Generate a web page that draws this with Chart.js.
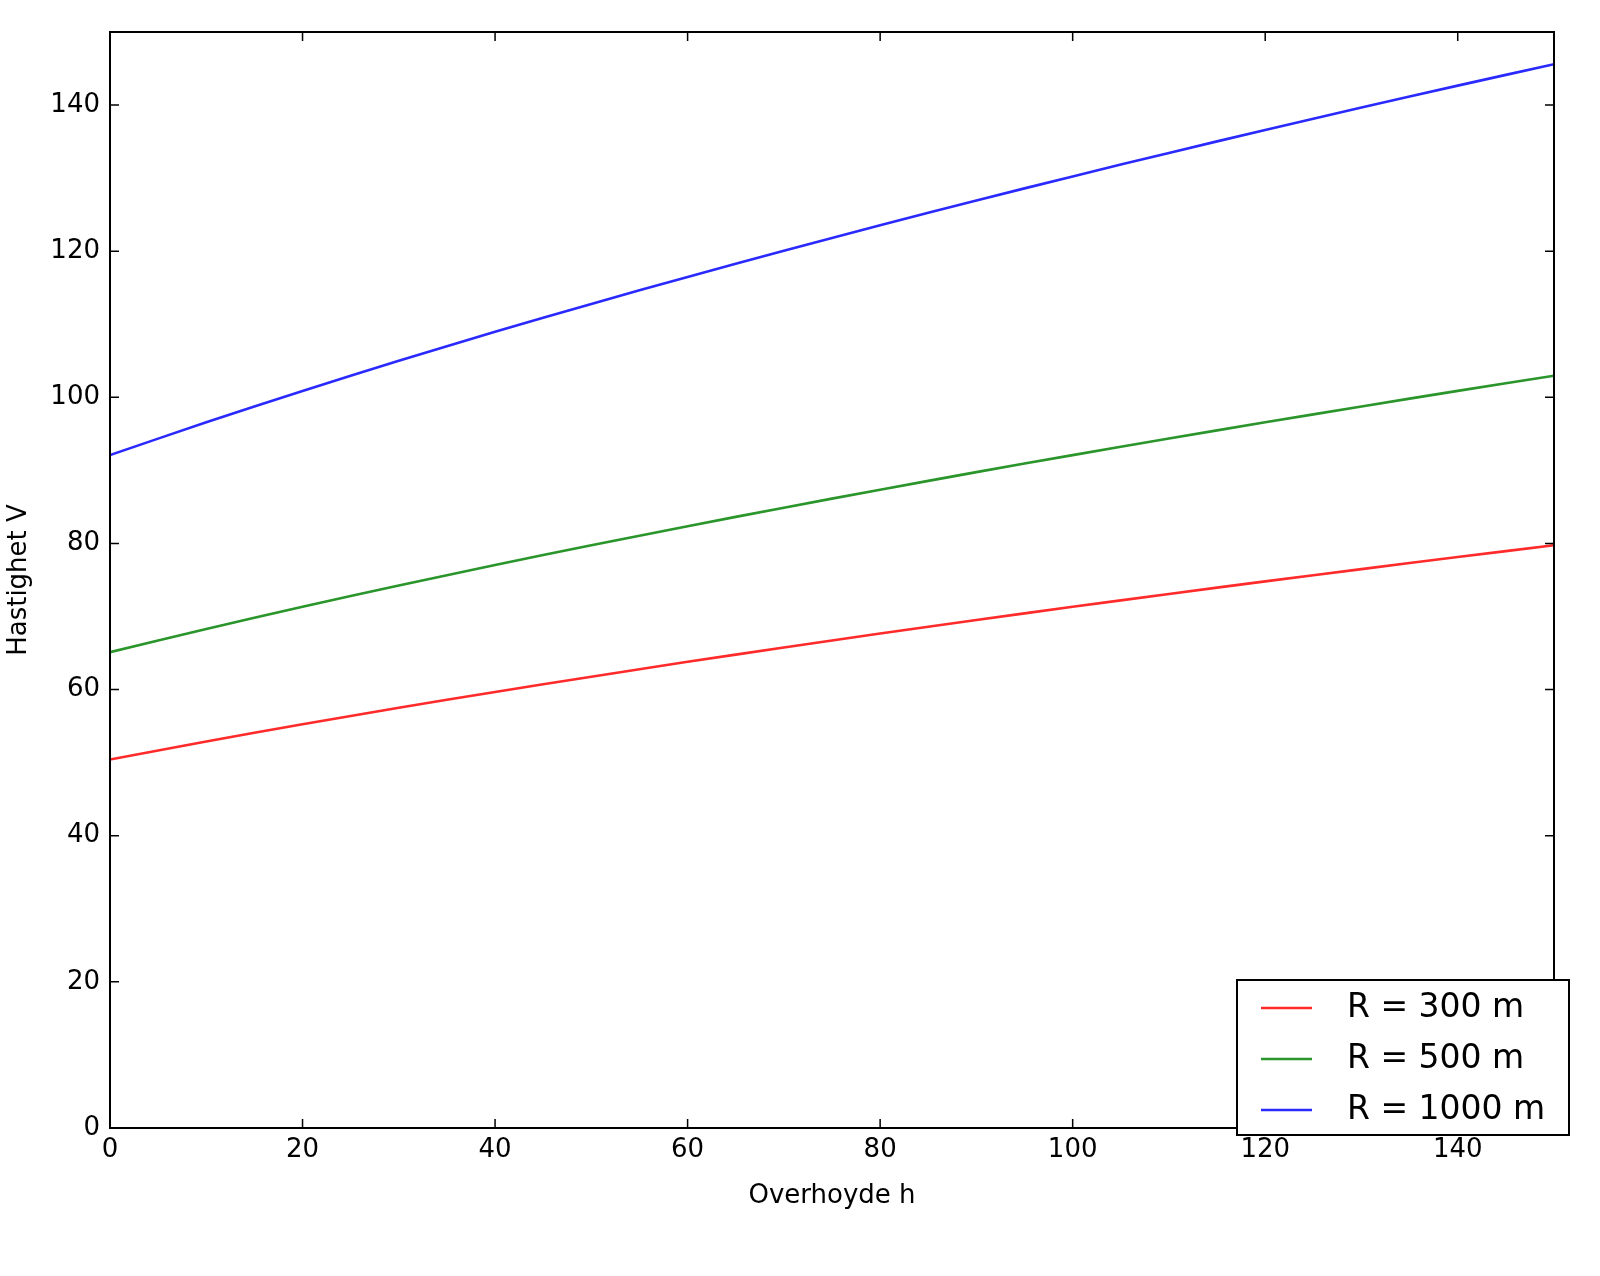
<!DOCTYPE html>
<html><head><meta charset="utf-8">
<script src="https://cdn.jsdelivr.net/npm/chart.js@4.4.0/dist/chart.umd.min.js"></script>
<style>html,body{margin:0;padding:0;background:#fff}#w{width:1600px;height:1276px}</style>
</head><body><div id="w"><canvas id="c"></canvas></div>
<script>
const hValues=[0,10,20,30,40,50,60,70,80,90,100,110,120,130,140,150];
const vR300=[50.44,52.90,55.25,57.51,59.68,61.77,63.80,65.76,67.67,69.52,71.33,73.09,74.81,76.49,78.14,79.75];
const vR500=[65.12,68.29,71.33,74.24,77.05,79.75,82.36,84.90,87.36,89.76,92.09,94.36,96.58,98.75,100.88,102.96];
const vR1000=[92.09,96.58,100.88,105.00,108.96,112.78,116.48,120.06,123.55,126.94,130.23,133.45,136.59,139.66,142.66,145.60];
const seriesLabels=['R = 300 m','R = 500 m','R = 1000 m'];
const xTicks=[0,20,40,60,80,100,120,140];
const yTicks=[0,20,40,60,80,100,120,140];
const colors=['#ff2a2a','#2a952a','#2a2aff'];
const FONT='"DejaVu Sans", sans-serif';
const mk=(v)=>hValues.map((h,i)=>({x:h,y:v[i]}));
const frame={id:'frame',afterDraw(ch){
 const c=ch.ctx,a=ch.chartArea,xs=ch.scales.x,ys=ch.scales.y;
 c.save();c.strokeStyle='#000';c.lineWidth=2;
 c.strokeRect(a.left,a.top,a.right-a.left,a.bottom-a.top);
 c.lineWidth=1.5;c.beginPath();
 xTicks.forEach(t=>{const p=xs.getPixelForValue(t);c.moveTo(p,a.bottom);c.lineTo(p,a.bottom-9);c.moveTo(p,a.top);c.lineTo(p,a.top+9);});
 yTicks.forEach(t=>{const p=ys.getPixelForValue(t);c.moveTo(a.left,p);c.lineTo(a.left+9,p);c.moveTo(a.right,p);c.lineTo(a.right-9,p);});
 c.stroke();
 const L=1237,T=980,W=332,H=155;
 c.fillStyle='#fff';c.fillRect(L,T,W,H);c.lineWidth=2;c.strokeRect(L,T,W,H);
 c.font='33px '+FONT;c.textBaseline='middle';c.fillStyle='#000';
 ch.data.datasets.forEach((d,i)=>{const y=T+28+i*51;
  c.strokeStyle=d.borderColor;c.lineWidth=2.5;c.beginPath();c.moveTo(L+24,y);c.lineTo(L+75,y);c.stroke();
  c.fillText(d.label,L+110,y);});
 c.restore();}};
new Chart(document.getElementById('c'),{type:'line',
 data:{datasets:[mk(vR300),mk(vR500),mk(vR1000)].map((d,i)=>({label:seriesLabels[i],data:d,borderColor:colors[i],borderWidth:2.6,pointRadius:0,tension:0.4,fill:false}))},
 options:{responsive:true,maintainAspectRatio:false,animation:false,devicePixelRatio:1,
  layout:{padding:{left:0,top:32,right:46,bottom:60}},
  plugins:{legend:{display:false},tooltip:{enabled:false}},
  scales:{
   x:{type:'linear',min:0,max:150,afterFit:s=>{s.height=88;},
    afterBuildTicks:s=>{s.ticks=xTicks.map(v=>({value:v}));},
    grid:{display:false,drawTicks:false},border:{display:false},
    ticks:{padding:7,color:'#000',font:{family:FONT,size:26}},
    title:{display:true,text:'Overhoyde h',color:'#000',font:{family:FONT,size:26},padding:{top:2}}},
   y:{type:'linear',min:0,max:150,afterFit:s=>{s.width=110;},
    afterBuildTicks:s=>{s.ticks=yTicks.map(v=>({value:v}));},
    grid:{display:false,drawTicks:false},border:{display:false},
    ticks:{padding:10,color:'#000',font:{family:FONT,size:26}},
    title:{display:true,text:'Hastighet V',color:'#000',font:{family:FONT,size:26},padding:{bottom:10}}}}},
 plugins:[frame]});
</script></body></html>
